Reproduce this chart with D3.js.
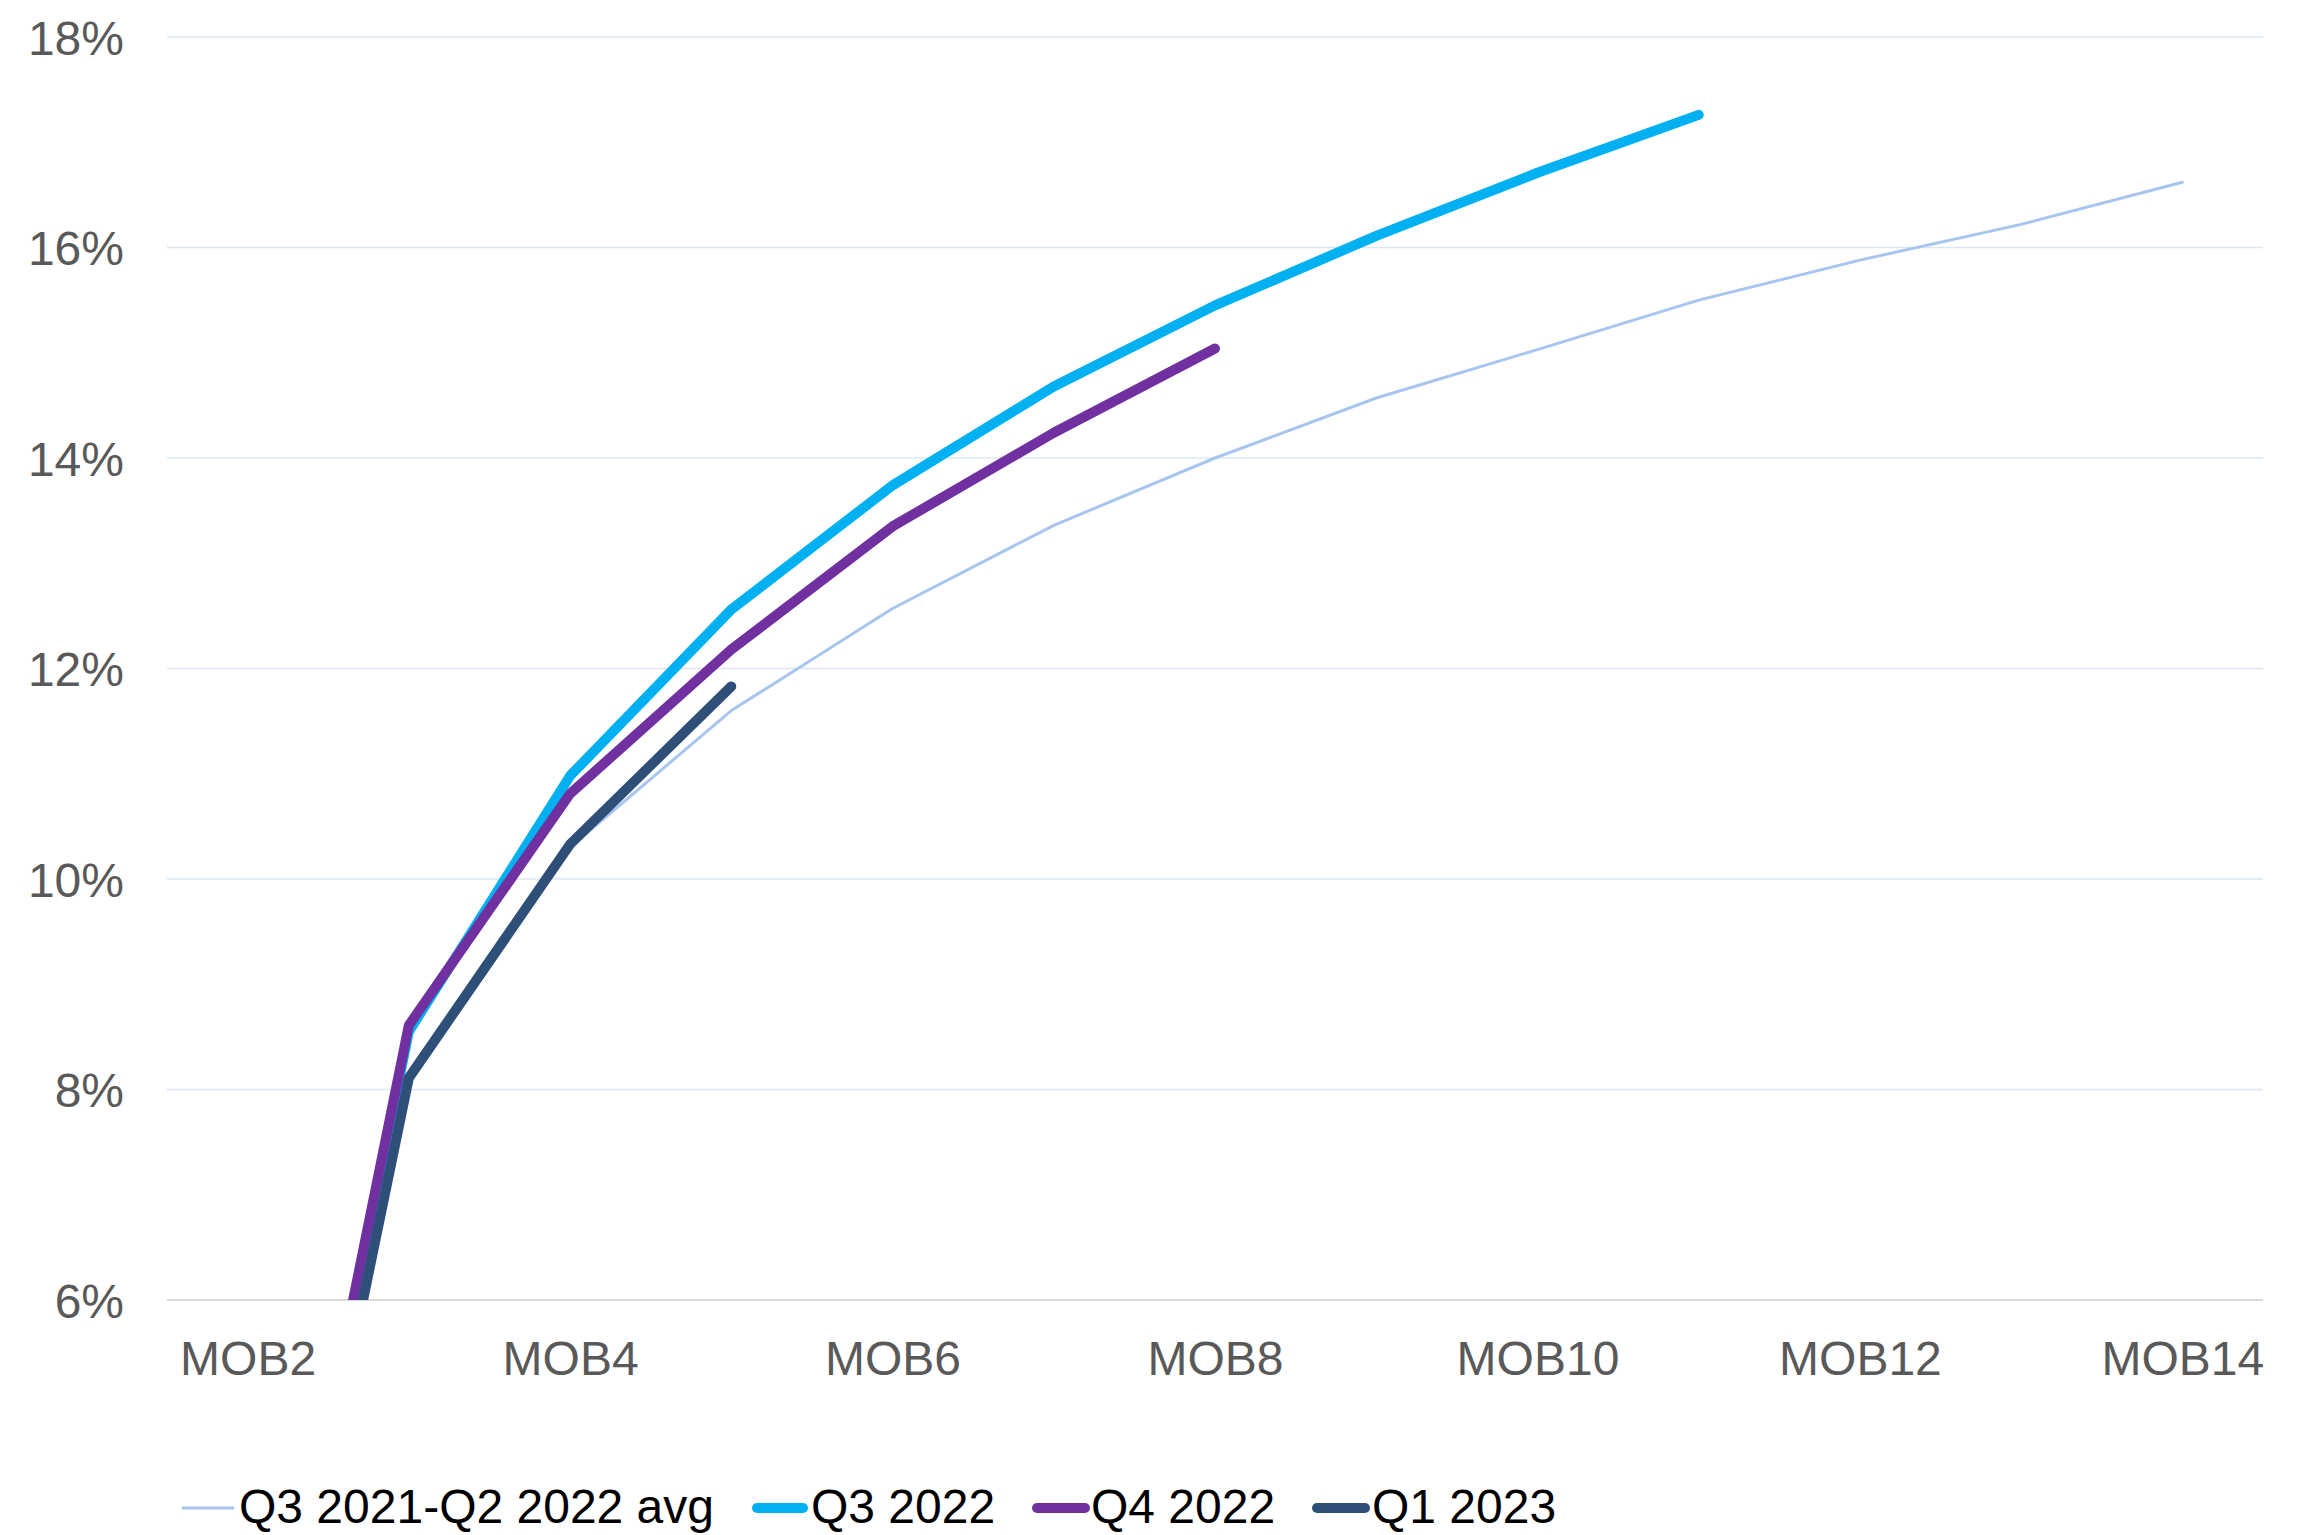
<!DOCTYPE html>
<html>
<head>
<meta charset="utf-8">
<script src="https://cdn.jsdelivr.net/npm/d3@7"></script>
<style>
  html, body { margin: 0; padding: 0; background: #ffffff; }
  svg { display: block; }
</style>
</head>
<body>
<svg id="chart" width="2315" height="1535"></svg>
<script>
// Cumulative loss rate by months on book (MOB), per origination quarter
const categories = ["MOB2", "MOB3", "MOB4", "MOB5", "MOB6", "MOB7", "MOB8",
                    "MOB9", "MOB10", "MOB11", "MOB12", "MOB13", "MOB14"];
const xTickLabels = ["MOB2", "MOB4", "MOB6", "MOB8", "MOB10", "MOB12", "MOB14"];
const yTicks = [6, 8, 10, 12, 14, 16, 18];

const seriesNames = ["Q3 2021-Q2 2022 avg", "Q3 2022", "Q4 2022", "Q1 2023"];
const avgValues  = [0.9, 8.05, 10.30, 11.60, 12.57, 13.36, 14.00, 14.57, 15.03, 15.50, 15.88, 16.22, 16.62];
const q3Values   = [1.0, 8.55, 10.98, 12.56, 13.74, 14.68, 15.45, 16.11, 16.71, 17.26, null, null, null];
const q4Values   = [1.06, 8.61, 10.81, 12.18, 13.35, 14.24, 15.04, null, null, null, null, null, null];
const q1Values   = [0.68, 8.11, 10.33, 11.83, null, null, null, null, null, null, null, null, null];

const seriesValues = [avgValues, q3Values, q4Values, q1Values];
const seriesColors = ["#a7c5ef", "#00b0f0", "#7030a0", "#2e4f77"];
const seriesWidths = [3, 10, 10, 10];

const svg = d3.select("#chart");
const plot = { left: 167, right: 2263, top: 37, bottom: 1300 };

const x = d3.scalePoint().domain(categories).range([plot.left, plot.right]).padding(0.5);
const y = d3.scaleLinear().domain([6, 18]).range([plot.bottom, plot.top]);

const font = "'Liberation Sans', Arial, sans-serif";

// horizontal gridlines
svg.append("g")
  .selectAll("line")
  .data(yTicks.filter(t => t > 6))
  .join("line")
  .attr("x1", plot.left).attr("x2", plot.right)
  .attr("y1", d => y(d)).attr("y2", d => y(d))
  .attr("stroke", "#dde7f4").attr("stroke-width", 1.6);

// x axis baseline
svg.append("line")
  .attr("x1", plot.left).attr("x2", plot.right)
  .attr("y1", y(6)).attr("y2", y(6))
  .attr("stroke", "#d9d9d9").attr("stroke-width", 2);

// y axis labels
const yAxis = d3.axisLeft(y).tickValues(yTicks).tickFormat(d => d + "%").tickSize(0).tickPadding(0);
const yg = svg.append("g").attr("transform", `translate(124,0)`).call(yAxis);
yg.select(".domain").remove();
yg.selectAll("text")
  .attr("font-family", font).attr("font-size", 48).attr("fill", "#595959")
  .attr("dy", "0.36em");

// x axis labels
const xAxis = d3.axisBottom(x).tickValues(xTickLabels).tickSize(0).tickPadding(0);
const xg = svg.append("g").attr("transform", `translate(0,1375)`).call(xAxis);
xg.select(".domain").remove();
xg.selectAll("text")
  .attr("font-family", font).attr("font-size", 48).attr("fill", "#595959")
  .attr("dy", 0);

// clip lines to the plot area
svg.append("defs").append("clipPath").attr("id", "plotClip")
  .append("rect")
  .attr("x", plot.left - 20).attr("y", 0)
  .attr("width", plot.right - plot.left + 40).attr("height", plot.bottom);

const line = d3.line()
  .defined(d => d.v != null)
  .x(d => x(d.c))
  .y(d => y(d.v));

const lines = svg.append("g").attr("clip-path", "url(#plotClip)");
seriesValues.forEach((vals, i) => {
  lines.append("path")
    .datum(categories.map((c, j) => ({ c, v: vals[j] })))
    .attr("d", line)
    .attr("fill", "none")
    .attr("stroke", seriesColors[i])
    .attr("stroke-width", seriesWidths[i])
    .attr("stroke-linejoin", "round")
    .attr("stroke-linecap", "round");
});

// legend
const legendItems = [
  { x0: 183, x1: 233, tx: 239 },
  { x0: 757, x1: 803, tx: 811 },
  { x0: 1037, x1: 1085, tx: 1091 },
  { x0: 1317, x1: 1365, tx: 1372 }
];
const legendY = 1508;
const lg = svg.append("g");
seriesNames.forEach((name, i) => {
  const it = legendItems[i];
  lg.append("line")
    .attr("x1", it.x0).attr("x2", it.x1)
    .attr("y1", legendY).attr("y2", legendY)
    .attr("stroke", seriesColors[i])
    .attr("stroke-width", seriesWidths[i])
    .attr("stroke-linecap", "round");
  lg.append("text")
    .attr("x", it.tx).attr("y", 1523)
    .attr("font-family", font).attr("font-size", 48).attr("fill", "#000000")
    .text(name);
});
</script>
</body>
</html>
